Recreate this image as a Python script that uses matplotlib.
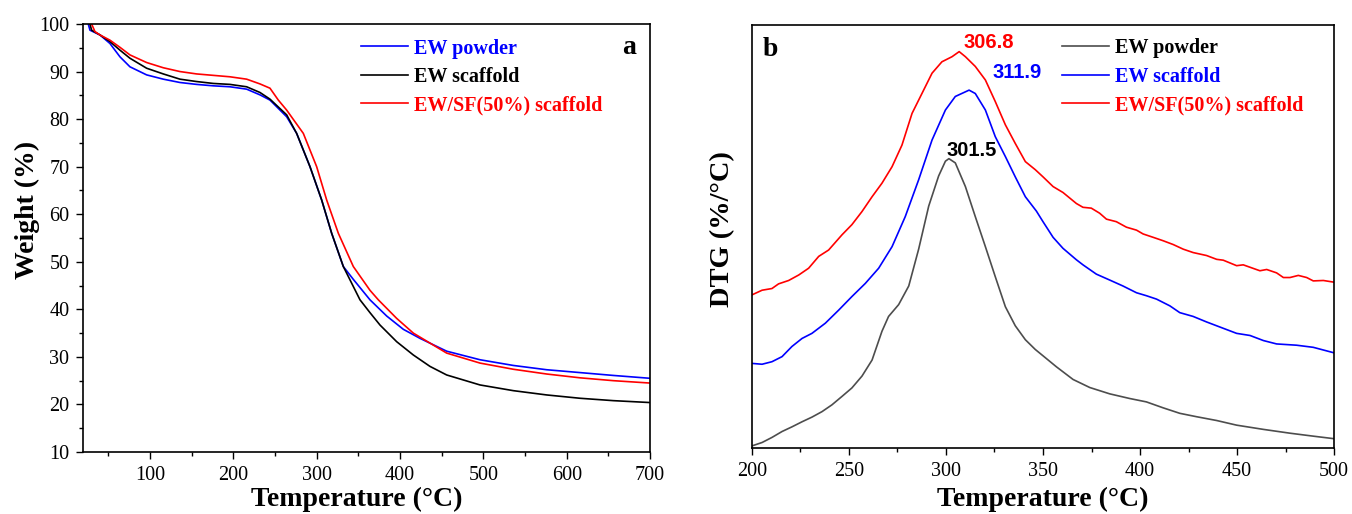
import numpy as np
import matplotlib
matplotlib.use("Agg")
import matplotlib.pyplot as plt
from matplotlib.ticker import MultipleLocator

# Fonts
plt.rcParams['font.family'] = ['Liberation Serif', 'DejaVu Serif']

# (a) TGA data, weight (%) vs temperature (C)
tga_temp_powder = [26, 28, 40, 52, 64, 76, 96, 116, 136, 156, 176, 196, 216, 232, 244, 264,
                   276, 292, 306, 318, 332, 344, 364, 384, 404, 424, 456, 496, 536, 576,
                   616, 656, 700]
tga_powder = [100, 98.7, 97.7, 95.9, 93.1, 91.0, 89.3, 88.4, 87.7, 87.3, 87.0, 86.8, 86.3,
              85.1, 84.0, 80.5, 77.0, 70.0, 63.0, 56.0, 49.0, 46.3, 42.0, 38.6, 35.8, 33.9,
              31.2, 29.4, 28.2, 27.3, 26.7, 26.1, 25.5]
tga_temp_scaffold = [28, 30, 40, 52, 64, 76, 96, 116, 136, 156, 176, 196, 216, 232, 244, 264,
                     276, 292, 306, 318, 332, 352, 364, 376, 396, 416, 436, 456, 496, 536,
                     576, 616, 656, 700]
tga_scaffold = [100, 98.7, 97.7, 96.3, 94.5, 92.8, 90.7, 89.5, 88.4, 87.9, 87.5, 87.3, 86.8,
                85.6, 84.2, 80.9, 77.0, 70.0, 63.0, 56.0, 49.0, 42.0, 39.3, 36.7, 33.2, 30.4,
                28.0, 26.2, 24.1, 22.9, 22.0, 21.3, 20.8, 20.4]
tga_temp_sf = [30, 34, 40, 52, 64, 76, 96, 116, 136, 156, 176, 196, 216, 232, 244, 254, 264,
               284, 300, 312, 326, 344, 364, 374, 396, 416, 456, 496, 536, 576, 616, 656, 700]
tga_sf = [100, 98.4, 97.7, 96.6, 95.1, 93.5, 91.9, 90.8, 90.0, 89.5, 89.2, 88.9, 88.4, 87.4,
          86.5, 84.0, 81.9, 77.0, 70.0, 63.0, 56.0, 49.0, 44.0, 42.0, 38.1, 35.0, 30.8, 28.7,
          27.4, 26.4, 25.6, 25.0, 24.5]

# (b) DTG data (arbitrary, vertically offset units)
dtg_temp_powder = [200, 205.2, 210.3, 215.5, 220.6, 225.8, 230.9, 236.1, 241.2, 246.4, 251.5,
                   256.7, 261.9, 267, 270.4, 275.6, 280.8, 285.9, 291.1, 296.2, 299.7, 301.5,
                   304.8, 310, 315.1, 320.3, 325.4, 330.6, 335.7, 340.9, 346, 350, 356.9,
                   365.5, 374.1, 384.4, 394.7, 403.3, 411.9, 420.5, 429.1, 439.5, 449.8,
                   463.6, 477.3, 489.3, 500]
dtg_powder = [0.5, 1.3, 2.5, 3.9, 5.0, 6.2, 7.3, 8.6, 10.2, 12.2, 14.2, 17.0, 20.8, 27.6,
              31.1, 33.9, 38.3, 47.0, 57.2, 64.3, 67.8, 68.4, 67.4, 61.8, 54.7, 47.6, 40.5,
              33.4, 28.9, 25.6, 23.3, 21.8, 19.2, 16.2, 14.3, 12.8, 11.7, 10.9, 9.5, 8.2,
              7.4, 6.5, 5.4, 4.4, 3.5, 2.8, 2.2]
dtg_temp_scaffold = [200, 205.2, 210.3, 215.5, 220.6, 225.8, 230.9, 237.8, 244.7, 251.5,
                     258.4, 265.3, 272.2, 279, 285.9, 292.8, 299.7, 304.8, 311.9, 315.1,
                     320.3, 325.4, 330.6, 335.7, 340.9, 346.6, 350, 355.2, 360.3, 367.2,
                     370.6, 377.5, 384.4, 391.2, 398.2, 403.3, 408.5, 415.4, 420.5, 427.4,
                     434.3, 442.9, 449.8, 456.7, 463.6, 470.4, 480.7, 489.3, 500]
dtg_scaffold = [20.0, 19.8, 20.4, 21.6, 24.0, 25.9, 27.1, 29.5, 32.6, 35.8, 38.9, 42.5, 47.6,
                54.7, 63.4, 72.8, 79.9, 83.1, 84.6, 83.8, 79.9, 73.6, 68.9, 64.1, 59.4, 56.0,
                53.5, 49.8, 47.2, 44.5, 43.3, 41.1, 39.7, 38.3, 36.7, 36.0, 35.2, 33.6, 32.0,
                31.1, 29.8, 28.3, 27.1, 26.6, 25.4, 24.6, 24.3, 23.8, 22.5]
dtg_temp_sf = [200, 205.2, 210.3, 213.7, 218.9, 224.1, 229.2, 234.4, 239.5, 246.4, 251.5,
               256.7, 261.9, 267, 272.2, 277.3, 282.5, 287.6, 292.8, 297.9, 303.1, 306.8,
               310, 315.1, 320.3, 325.4, 330.6, 335.7, 340.9, 346, 350, 355.2, 360.3, 367.2,
               370.6, 374.9, 379.2, 382.7, 387.8, 393, 398.2, 401.6, 406.8, 411.9, 417.1,
               422.3, 427.4, 434.3, 439.5, 442.9, 449.8, 453.2, 461.8, 465.3, 470.4, 473.9,
               477.3, 481.6, 485.9, 489.3, 494.5, 500]
dtg_sf = [36.2, 37.3, 37.7, 38.8, 39.6, 40.9, 42.5, 45.3, 46.8, 50.4, 52.8, 55.9, 59.4, 62.6,
          66.5, 71.6, 79.1, 83.8, 88.6, 91.3, 92.5, 93.7, 92.5, 90.2, 87.0, 81.9, 76.4, 72.0,
          67.7, 65.8, 64.1, 61.8, 60.4, 57.8, 56.9, 56.7, 55.5, 54.1, 53.5, 52.2, 51.5, 50.6,
          49.8, 49.0, 48.1, 47.0, 46.2, 45.5, 44.6, 44.4, 43.1, 43.3, 41.9, 42.2, 41.4, 40.3,
          40.3, 40.8, 40.3, 39.5, 39.6, 39.2]

peak_labels = ['301.5', '306.8', '311.9']

fig = plt.figure(figsize=(13.52, 5.14), dpi=100)
ax1 = fig.add_axes([0.0616, 0.1206, 0.4192, 0.8327])
ax2 = fig.add_axes([0.5562, 0.1284, 0.4305, 0.8230])

# Panel a
ax1.plot(tga_temp_powder, tga_powder, color='blue', lw=1.2, label='EW powder')
ax1.plot(tga_temp_scaffold, tga_scaffold, color='black', lw=1.2, label='EW scaffold')
ax1.plot(tga_temp_sf, tga_sf, color='red', lw=1.2, label='EW/SF(50%) scaffold')
ax1.set_xlim(20, 700)
ax1.set_ylim(10, 100)
ax1.set_xticks([100, 200, 300, 400, 500, 600, 700])
ax1.xaxis.set_minor_locator(MultipleLocator(50))
ax1.yaxis.set_major_locator(MultipleLocator(10))
ax1.yaxis.set_minor_locator(MultipleLocator(5))
ax1.set_xlabel('Temperature (\u00b0C)', fontsize=20, fontweight='bold', va='top')
ax1.xaxis.set_label_coords(0.483, -0.082)
ax1.set_ylabel('Weight (%)', fontsize=20, fontweight='bold')
ax1.yaxis.set_label_coords(-0.077, 0.565)
ax1.text(0.963, 0.944, 'a', transform=ax1.transAxes, fontsize=20, fontweight='bold',
         ha='center', va='center')
ax1.legend(loc='upper left', bbox_to_anchor=(0.466, 0.999), frameon=False,
           labelcolor=['blue', 'black', 'red'], handlelength=2.3, handletextpad=0.3,
           labelspacing=0.42, borderaxespad=0.3, prop={'weight': 'bold', 'size': 14.5})

# Panel b
ax2.plot(dtg_temp_powder, dtg_powder, color='#4d4d4d', lw=1.2, label='EW powder')
ax2.plot(dtg_temp_scaffold, dtg_scaffold, color='blue', lw=1.2, label='EW scaffold')
ax2.plot(dtg_temp_sf, dtg_sf, color='red', lw=1.2, label='EW/SF(50%) scaffold')
ax2.set_xlim(200, 500)
ax2.set_ylim(0, 100)
ax2.xaxis.set_major_locator(MultipleLocator(50))
ax2.xaxis.set_minor_locator(MultipleLocator(25))
ax2.set_yticks([])
ax2.set_xlabel('Temperature (\u00b0C)', fontsize=20, fontweight='bold', va='top')
ax2.xaxis.set_label_coords(0.5, -0.092)
ax2.set_ylabel('DTG (%/\u00b0C)', fontsize=20.5, fontweight='bold')
ax2.yaxis.set_label_coords(-0.029, 0.518)
ax2.text(0.031, 0.941, 'b', transform=ax2.transAxes, fontsize=20, fontweight='bold',
         ha='center', va='center')
ax2.legend(loc='upper left', bbox_to_anchor=(0.509, 1.002), frameon=False,
           labelcolor=['black', 'blue', 'red'], handlelength=2.3, handletextpad=0.3,
           labelspacing=0.42, borderaxespad=0.3, prop={'weight': 'bold', 'size': 14.5})

# Peak annotations
sans = ['Liberation Sans', 'DejaVu Sans']
ax2.text(300.5, 70.4, peak_labels[0], color='black', fontsize=14.5, fontweight='bold',
         family=sans, ha='left', va='center')
ax2.text(308.8, 95.9, peak_labels[1], color='red', fontsize=14.5, fontweight='bold',
         family=sans, ha='left', va='center')
ax2.text(324.2, 88.8, peak_labels[2], color='blue', fontsize=14.5, fontweight='bold',
         family=sans, ha='left', va='center')

for ax in (ax1, ax2):
    ax.tick_params(axis='both', which='major', direction='out', length=5, width=1,
                   labelsize=14.5, pad=5)
    ax.tick_params(axis='both', which='minor', direction='out', length=3, width=1)
    for sp in ax.spines.values():
        sp.set_linewidth(1.2)

fig.savefig('out.png', dpi=100)
